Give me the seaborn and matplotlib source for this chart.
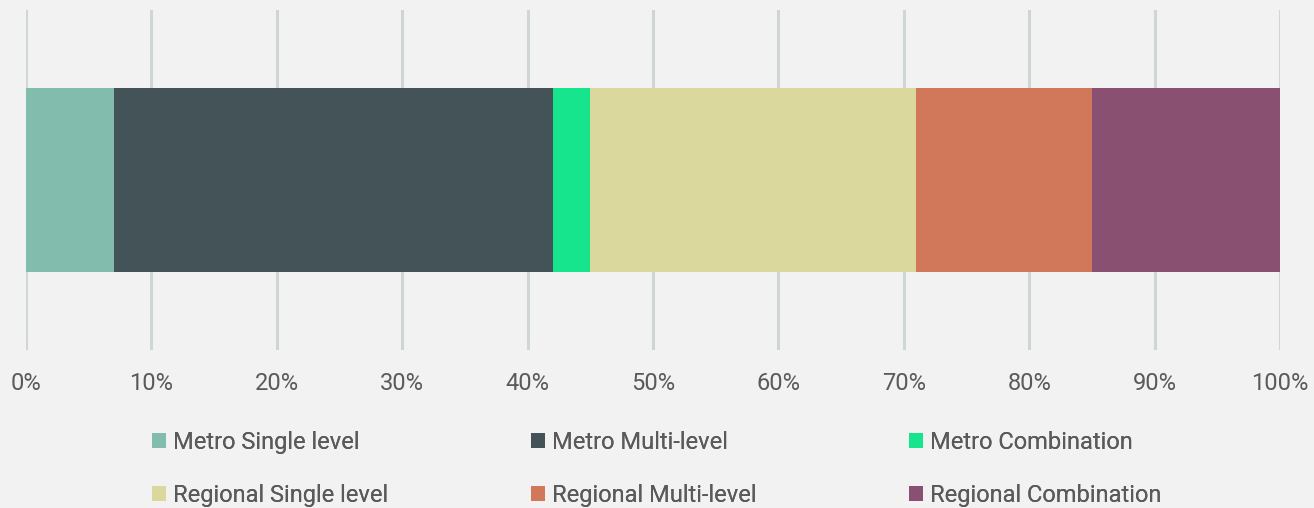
import matplotlib
matplotlib.use("Agg")
import matplotlib.pyplot as plt
from matplotlib.patches import Patch
import numpy as np
import pandas as pd
import seaborn as sns

# Share of sites by type (percent of total)
categories = ["Metro Single level", "Metro Multi-level", "Metro Combination",
              "Regional Single level", "Regional Multi-level", "Regional Combination"]
shares = [7, 35, 3, 26, 14, 15]
colors = ["#82bcad", "#435357", "#17e58d", "#dad89c", "#d1785b", "#895072"]
tick_values = [0, 10, 20, 30, 40, 50, 60, 70, 80, 90, 100]
tick_labels = [f"{v}%" for v in tick_values]

bg = "#f2f2f2"
text_color = "#5a5a5a"
grid_color = "#cfd6d6"

sns.set_theme(style="white")
plt.rcParams["font.family"] = ["Roboto", "DejaVu Sans"]

fig = plt.figure(figsize=(13.14, 5.08), dpi=100, facecolor=bg)
ax = fig.add_axes([0.01979, 0.311, 0.95434, 0.669])
ax.set_facecolor(bg)

# Stacked bar: draw cumulative totals from the largest down so each
# segment shows only its own share.
cum = np.cumsum(shares)
df = pd.DataFrame({"row": ["all"] * len(shares), "cum": cum, "cat": categories})
for i in reversed(range(len(shares))):
    sub = df.iloc[[i]]
    sns.barplot(data=sub, x="cum", y="row", orient="h", color=colors[i],
                width=0.54, saturation=1, linewidth=0, edgecolor="none",
                ax=ax, zorder=3)

ax.set_xlim(0, 100)
ax.set_ylim(0.5, -0.5)
ax.set_xticks(tick_values)
ax.set_xticklabels(tick_labels, fontsize=17, color=text_color)
ax.set_yticks([])
ax.set_xlabel("")
ax.set_ylabel("")
ax.tick_params(axis="x", length=0, pad=16)
for v in tick_values:
    ax.axvline(v, color=grid_color, lw=2.2, zorder=1)
for s in ax.spines.values():
    s.set_visible(False)

# Legend: three columns, two rows each
col_x = [152 / 1314, 531 / 1314, 909 / 1314]
for c in range(3):
    idx = [c, c + 3]
    handles = [Patch(facecolor=colors[i], edgecolor="none") for i in idx]
    labels = [categories[i] for i in idx]
    leg = fig.legend(handles, labels, loc="upper left",
                     bbox_to_anchor=(col_x[c], 1 - 431 / 508),
                     frameon=False, fontsize=17, labelcolor=text_color,
                     handlelength=0.6, handleheight=0.6, handletextpad=0.28,
                     labelspacing=1.27, borderpad=0, borderaxespad=0)
    fig.add_artist(leg)

fig.savefig("out.png", dpi=100, facecolor=bg)
